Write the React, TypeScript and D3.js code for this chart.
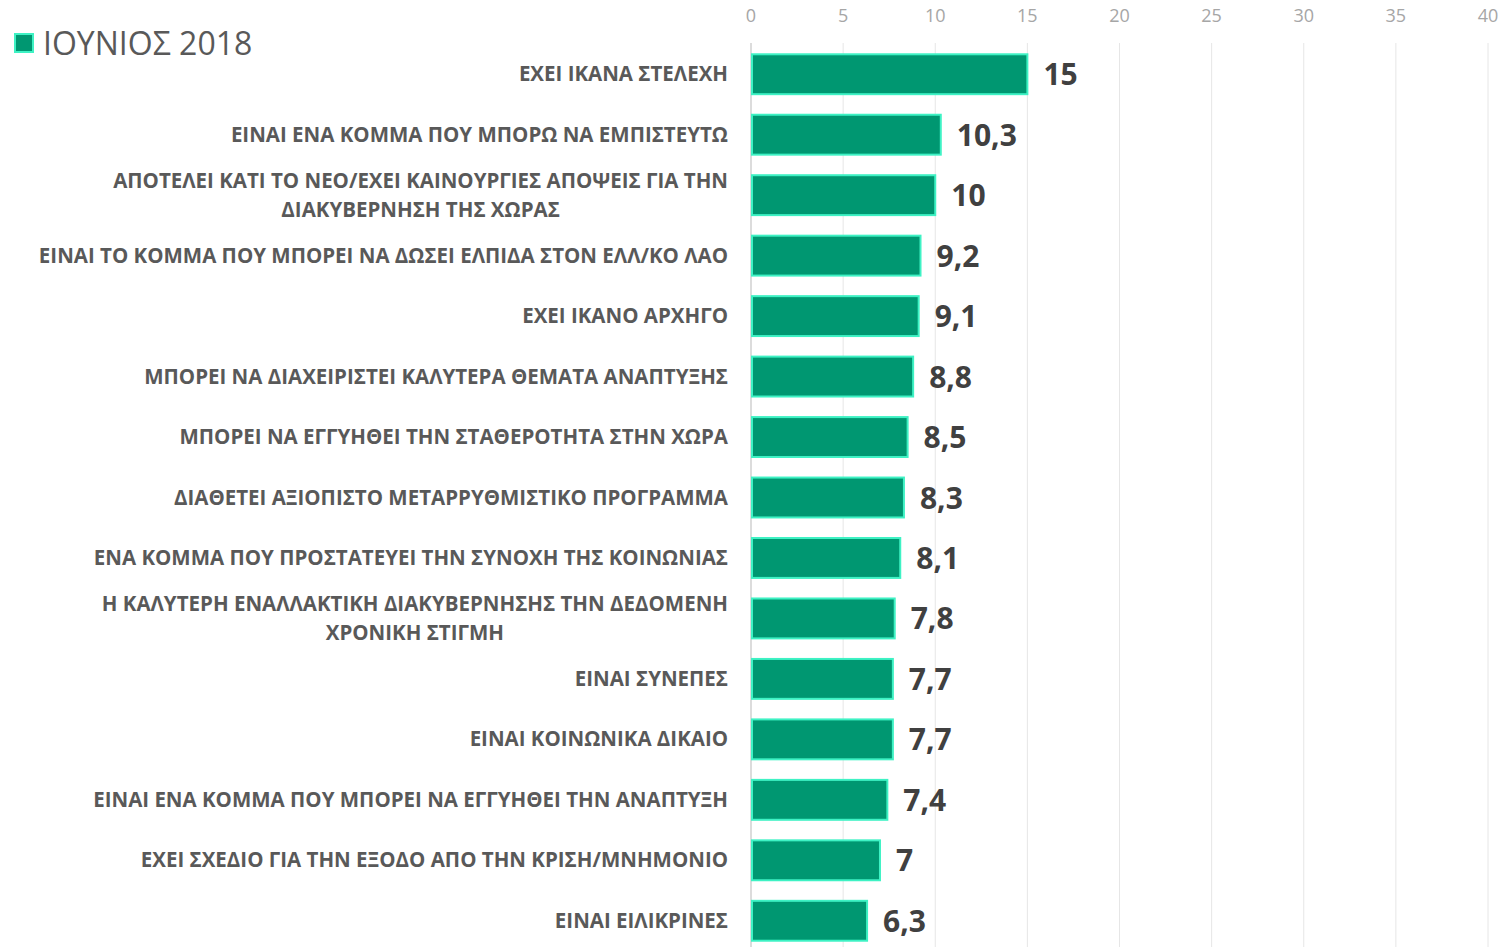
import React, { useEffect, useRef } from "react";
import * as d3 from "d3";

const categories: string[][] = [
  ["ΕΧΕΙ ΙΚΑΝΑ ΣΤΕΛΕΧΗ"],
  ["ΕΙΝΑΙ ΕΝΑ ΚΟΜΜΑ ΠΟΥ ΜΠΟΡΩ ΝΑ ΕΜΠΙΣΤΕΥΤΩ"],
  ["ΑΠΟΤΕΛΕΙ ΚΑΤΙ ΤΟ ΝΕΟ/ΕΧΕΙ ΚΑΙΝΟΥΡΓΙΕΣ ΑΠΟΨΕΙΣ ΓΙΑ ΤΗΝ", "ΔΙΑΚΥΒΕΡΝΗΣΗ ΤΗΣ ΧΩΡΑΣ"],
  ["ΕΙΝΑΙ ΤΟ ΚΟΜΜΑ ΠΟΥ ΜΠΟΡΕΙ ΝΑ ΔΩΣΕΙ ΕΛΠΙΔΑ ΣΤΟΝ ΕΛΛ/ΚΟ ΛΑΟ"],
  ["ΕΧΕΙ ΙΚΑΝΟ ΑΡΧΗΓΟ"],
  ["ΜΠΟΡΕΙ ΝΑ ΔΙΑΧΕΙΡΙΣΤΕΙ ΚΑΛΥΤΕΡΑ ΘΕΜΑΤΑ ΑΝΑΠΤΥΞΗΣ"],
  ["ΜΠΟΡΕΙ ΝΑ ΕΓΓΥΗΘΕΙ ΤΗΝ ΣΤΑΘΕΡΟΤΗΤΑ ΣΤΗΝ ΧΩΡΑ"],
  ["ΔΙΑΘΕΤΕΙ ΑΞΙΟΠΙΣΤΟ ΜΕΤΑΡΡΥΘΜΙΣΤΙΚΟ ΠΡΟΓΡΑΜΜΑ"],
  ["ΕΝΑ ΚΟΜΜΑ ΠΟΥ ΠΡΟΣΤΑΤΕΥΕΙ ΤΗΝ ΣΥΝΟΧΗ ΤΗΣ ΚΟΙΝΩΝΙΑΣ"],
  ["Η ΚΑΛΥΤΕΡΗ ΕΝΑΛΛΑΚΤΙΚΗ ΔΙΑΚΥΒΕΡΝΗΣΗΣ ΤΗΝ ΔΕΔΟΜΕΝΗ", "ΧΡΟΝΙΚΗ ΣΤΙΓΜΗ"],
  ["ΕΙΝΑΙ ΣΥΝΕΠΕΣ"],
  ["ΕΙΝΑΙ ΚΟΙΝΩΝΙΚΑ ΔΙΚΑΙΟ"],
  ["ΕΙΝΑΙ ΕΝΑ ΚΟΜΜΑ ΠΟΥ ΜΠΟΡΕΙ ΝΑ ΕΓΓΥΗΘΕΙ ΤΗΝ ΑΝΑΠΤΥΞΗ"],
  ["ΕΧΕΙ ΣΧΕΔΙΟ ΓΙΑ ΤΗΝ ΕΞΟΔΟ ΑΠΟ ΤΗΝ ΚΡΙΣΗ/ΜΝΗΜΟΝΙΟ"],
  ["ΕΙΝΑΙ ΕΙΛΙΚΡΙΝΕΣ"],
];
const values: number[] = [15, 10.3, 10, 9.2, 9.1, 8.8, 8.5, 8.3, 8.1, 7.8, 7.7, 7.7, 7.4, 7, 6.3];
const valueLabels: string[] = ["15", "10,3", "10", "9,2", "9,1", "8,8", "8,5", "8,3", "8,1", "7,8", "7,7", "7,7", "7,4", "7", "6,3"];
const xTicks: number[] = [0, 5, 10, 15, 20, 25, 30, 35, 40];
const seriesName = "ΙΟΥΝΙΟΣ 2018";

const W = 1503;
const H = 947;
const FONT = "'Open Sans', 'DejaVu Sans', sans-serif";

export default function App() {
  const ref = useRef<SVGSVGElement>(null);
  useEffect(() => {
    const svg = d3.select(ref.current);
    svg.selectAll("*").remove();
    const x = d3.scaleLinear().domain([0, 40]).range([751, 1488]);
    const idx = categories.map((_, i) => i);
    const y = d3.scaleBand<number>().domain(idx).range([44, 951]).paddingInner(0.34).paddingOuter(0.17);

    // grid
    svg.append("g").selectAll("line").data(xTicks).join("line")
      .attr("x1", (d) => x(d)).attr("x2", (d) => x(d))
      .attr("y1", 43).attr("y2", H)
      .attr("stroke", (d) => (d === 0 ? "#d0d0d0" : "#e6e6e6"))
      .attr("stroke-width", (d) => (d === 0 ? 1.5 : 1));

    // tick labels
    svg.append("g").selectAll("text").data(xTicks).join("text")
      .attr("x", (d) => x(d)).attr("y", 22)
      .attr("text-anchor", "middle")
      .attr("font-family", FONT).attr("font-size", 18)
      .attr("fill", "#a6a6a6")
      .text((d) => String(d));

    // bars
    svg.append("g").selectAll("rect").data(values).join("rect")
      .attr("x", x(0) + 1).attr("y", (_, i) => y(i)!)
      .attr("width", (d) => x(d) - x(0) - 1)
      .attr("height", y.bandwidth())
      .attr("fill", "#009771")
      .attr("stroke", "#3ef2c4").attr("stroke-width", 2);

    // value labels
    svg.append("g").selectAll("text").data(values).join("text")
      .attr("x", (d) => x(d) + 16)
      .attr("y", (_, i) => y(i)! + y.bandwidth() / 2 + 11)
      .attr("font-family", FONT).attr("font-size", 30).attr("font-weight", 700)
      .attr("fill", "#404040")
      .text((_, i) => valueLabels[i]);

    // category labels
    const lab = svg.append("g");
    categories.forEach((lines, i) => {
      const cy = y(i)! + y.bandwidth() / 2;
      const lh = 29;
      const g = lab.append("g");
      const texts = lines.map((ln, j) =>
        g.append("text")
          .attr("y", cy + (j - (lines.length - 1) / 2) * lh + 7)
          .attr("font-family", FONT).attr("font-size", 20.5).attr("font-weight", 700)
          .attr("fill", "#595959")
          .text(ln)
      );
      const widths = texts.map((t) => (t.node() as SVGTextElement).getComputedTextLength());
      const maxW = Math.max(...widths);
      const center = 728 - maxW / 2;
      texts.forEach((t) => t.attr("x", center).attr("text-anchor", "middle"));
    });

    // legend
    svg.append("rect").attr("x", 15).attr("y", 34).attr("width", 18).attr("height", 18)
      .attr("fill", "#009771").attr("stroke", "#3ef2c4").attr("stroke-width", 2);
    svg.append("text").attr("x", 43).attr("y", 55)
      .attr("font-family", FONT).attr("font-size", 32).attr("fill", "#595959")
      .text(seriesName);
  }, []);
  return (
    <svg ref={ref} width={W} height={H} style={{ position: "absolute", left: 0, top: 0, background: "#fff" }} />
  );
}
